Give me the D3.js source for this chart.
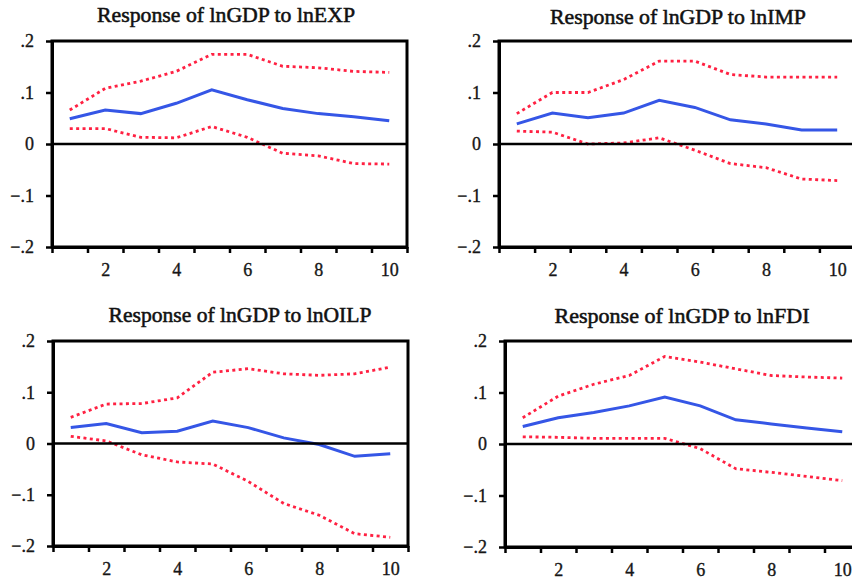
<!DOCTYPE html>
<html>
<head>
<meta charset="utf-8">
<script src="https://cdn.jsdelivr.net/npm/d3@7"></script>
<style>
 body{margin:0;background:#fff}
 svg{display:block}
</style>
</head>
<body>
<div id="chartDiv"></div>
<script>
//---data: impulse responses + bands---
var Periods=[1,2,3,4,5,6,7,8,9,10]
var Titles=["Response of lnGDP to lnEXP","Response of lnGDP to lnIMP","Response of lnGDP to lnOILP","Response of lnGDP to lnFDI"]
var YTicks=[-0.2,-0.1,0,0.1,0.2]
var XLabels=[2,4,6,8,10]

var expMid=[0.049,0.066,0.059,0.079,0.105,0.086,0.069,0.059,0.053,0.045]
var expUp=[0.066,0.108,0.122,0.141,0.174,0.174,0.151,0.148,0.141,0.139]
var expLo=[0.030,0.030,0.013,0.012,0.034,0.013,-0.018,-0.023,-0.038,-0.039]

var impMid=[0.039,0.060,0.051,0.060,0.085,0.071,0.047,0.039,0.027,0.027]
var impUp=[0.059,0.100,0.100,0.125,0.161,0.161,0.135,0.130,0.130,0.130]
var impLo=[0.025,0.023,0.000,0.002,0.012,-0.012,-0.038,-0.046,-0.068,-0.071]

var oilMid=[0.031,0.039,0.021,0.024,0.044,0.031,0.011,-0.002,-0.025,-0.020]
var oilUp=[0.051,0.077,0.078,0.089,0.139,0.146,0.136,0.133,0.136,0.149]
var oilLo=[0.014,0.005,-0.022,-0.036,-0.040,-0.074,-0.117,-0.140,-0.176,-0.183]

var fdiMid=[0.034,0.051,0.061,0.074,0.091,0.074,0.047,0.039,0.031,0.024]
var fdiUp=[0.051,0.093,0.116,0.133,0.170,0.159,0.146,0.133,0.130,0.128]
var fdiLo=[0.014,0.013,0.011,0.011,0.011,-0.009,-0.048,-0.055,-0.063,-0.071]

var SeriesSets=[[expMid,expUp,expLo],[impMid,impUp,impLo],[oilMid,oilUp,oilLo],[fdiMid,fdiUp,fdiLo]]

//---panel boxes (px)---
var Boxes=[
 {x0:52,x1:407,y0:41,y1:247,tx:226,ty:17,tw:258},
 {x0:499,x1:855,y0:41,y1:247,tx:678,ty:19,tw:256},
 {x0:53,x1:408,y0:341,y1:546,tx:240,ty:317,tw:263},
 {x0:505,x1:860,y0:341,y1:547,tx:682,ty:318,tw:255}
]

var W=852, H=579
var FONT="'Liberation Serif','Times New Roman',serif"
var BlueCol="#3556e6"
var RedCol="#ff2142"

var ChartSVG=d3.select("#chartDiv").append("svg")
 .attr("width",W).attr("height",H)
 .attr("viewBox","0 0 "+W+" "+H)

function fmtY(v)
{
 if(v==0)return "0"
 var s=d3.format(".1f")(v)
 return s.replace("0.",".")
}

function drawPanel(i)
{
 var b=Boxes[i]
 var sets=SeriesSets[i]
 var g=ChartSVG.append("g").attr("id","panel"+i)

 var x=d3.scaleLinear().domain([0.5,10.5]).range([b.x0,b.x1])
 var y=d3.scaleLinear().domain([-0.2,0.2]).range([b.y1,b.y0])

 //---frame---
 g.append("rect")
  .attr("x",b.x0).attr("y",b.y0)
  .attr("width",b.x1-b.x0).attr("height",b.y1-b.y0)
  .attr("fill","none").attr("stroke","#000").attr("stroke-width",3)

 var line=d3.line().x(function(d,k){return x(Periods[k])}).y(function(d){return y(d)})

 //---bands---
 ;[sets[1],sets[2]].forEach(function(s){
  g.append("path").datum(s)
   .attr("d",line)
   .attr("fill","none")
   .attr("stroke",RedCol)
   .attr("stroke-width",2.8)
   .attr("stroke-dasharray","3 3.4")
 })
 //---response---
 g.append("path").datum(sets[0])
  .attr("d",line)
  .attr("fill","none")
  .attr("stroke",BlueCol)
  .attr("stroke-width",3)

 //---zero line on top---
 g.append("line")
  .attr("x1",b.x0).attr("x2",b.x1)
  .attr("y1",y(0)).attr("y2",y(0))
  .attr("stroke","#000").attr("stroke-width",2.5)

 //---y axis---
 var ya=g.append("g")
  .attr("transform","translate("+b.x0+",0)")
  .call(d3.axisLeft(y).tickValues(YTicks).tickFormat(fmtY).tickSize(6).tickSizeOuter(0).tickPadding(12))
 ya.select(".domain").attr("stroke-width",3)
 ya.selectAll(".tick line").attr("stroke-width",2.5)
 ya.selectAll("text").attr("font-family",FONT).attr("font-size",18).attr("fill","#161616")
  .attr("stroke","#161616").attr("stroke-width",0.35)

 //---x axis: ticks at band edges, labels at centres---
 var xa=g.append("g")
  .attr("transform","translate(0,"+b.y1+")")
  .call(d3.axisBottom(x).tickValues(d3.range(0.5,11,1)).tickFormat("").tickSize(6).tickSizeOuter(0))
 xa.select(".domain").attr("stroke-width",3)
 xa.selectAll(".tick line").attr("stroke-width",2.5)

 var xl=g.append("g")
  .attr("transform","translate(0,"+b.y1+")")
  .call(d3.axisBottom(x).tickValues(XLabels).tickSize(0).tickPadding(16))
 xl.select(".domain").remove()
 xl.selectAll("text").attr("font-family",FONT).attr("font-size",18).attr("fill","#161616")
  .attr("stroke","#161616").attr("stroke-width",0.35)

 //---title---
 g.append("text")
  .attr("x",b.tx).attr("y",b.ty)
  .attr("text-anchor","middle")
  .attr("dominant-baseline","middle")
  .attr("font-family",FONT)
  .attr("font-size",20)
  .attr("fill","#111")
  .attr("stroke","#111").attr("stroke-width",0.5)
  .attr("textLength",b.tw)
  .attr("lengthAdjust","spacingAndGlyphs")
  .text(Titles[i])
}

for(var p=0;p<4;p++)drawPanel(p)
</script>
</body>
</html>
